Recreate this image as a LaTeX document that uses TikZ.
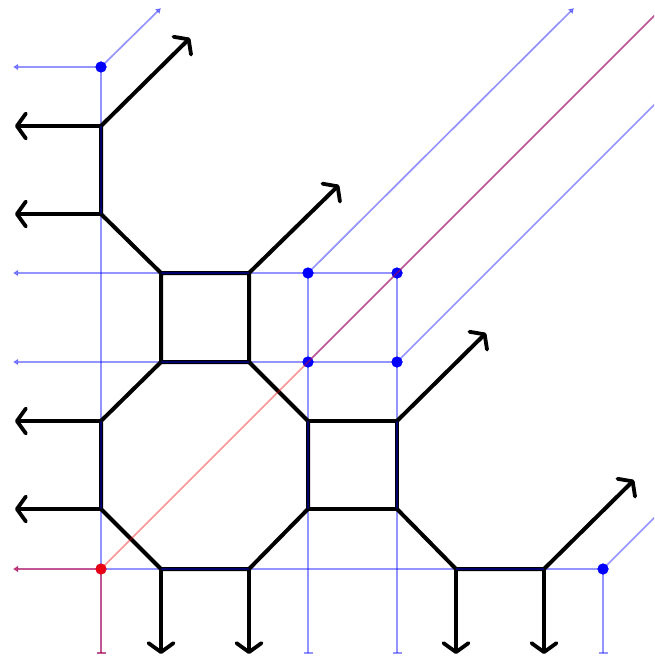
\documentclass[tikz,border=0pt]{standalone}
\usetikzlibrary{arrows.meta}
\tikzset{
  wire/.style={line width=4pt,black,line cap=round,line join=round},
  wirearrow/.style={wire,-{Straight Barb[length=9pt,width=25pt,line width=3.8pt,round]}},
  bl/.style={line width=1.7pt,blue,opacity=.42},
  blarrow/.style={bl,-{Latex[length=5pt,width=7pt]}},
  blbar/.style={bl,-{Bar[width=9pt,line width=1.7pt]}},
  rd/.style={line width=1.7pt,red,opacity=.42},
  rdarrow/.style={rd,-{Latex[length=5pt,width=7pt]}},
  rdbar/.style={rd,-{Bar[width=9pt,line width=1.7pt]}},
  bdot/.style={circle,fill=blue,inner sep=0pt,minimum size=11pt},
  rdot/.style={circle,fill=red!90!blue,inner sep=0pt,minimum size=11pt},
}
\begin{document}
\begin{tikzpicture}[x=1pt,y=-1pt]
\useasboundingbox (0,0) rectangle (654,661);
\clip (0,0) rectangle (654,661);
% vertices of the black graph
\foreach \n/\x/\y in {
  a/101/126,b/101/214,c/161/273,d/249/273,e/161/362,f/249/362,
  g/101/421,h/101/509,i/161/569,j/249/569,k/308/421,l/308/509,
  m/397/421,n/397/509,o/456/569,p/544/569}
  {\coordinate (\n) at (\x,\y);}
% free ends of black arrows
\foreach \n/\x/\y in {
  ea/190/38,la/15/126,lb/15/214,ed/339/185,lg/15/421,lh/15/509,
  em/486/333,ep/634/480,di/161/654,dj/249/654,do/456/654,dp/544/654}
  {\coordinate (\n) at (\x,\y);}
% dot nodes
\node[bdot] (B1) at (101,67) {};
\node[bdot] (B2) at (308,273) {};
\node[bdot] (B3) at (397,273) {};
\node[bdot] (B4) at (308,362) {};
\node[bdot] (B5) at (397,362) {};
\node[bdot] (B6) at (603,569) {};
\node[rdot] (R1) at (101,569) {};
% free ends of thin lines
\foreach \n/\x/\y in {
  t1l/13/67,t1d/161/8,t2l/13/273,t2d/574/8,t3d/658/12,t4l/13/362,
  t5d/658/101,t6d/658/514,t7l/13/569,bx1/101/654,bx2/308/654,bx3/397/654,bx6/603/654}
  {\coordinate (\n) at (\x,\y);}
% blue lines
\draw[blarrow] (B1.center) -- (t1l);
\draw[blarrow] (B1.center) -- (t1d);
\draw[blbar] (B1.center) -- (bx1);
\draw[blarrow] (B3.center) -- (t2l);
\draw[blarrow] (B2.center) -- (t2d);
\draw[bl] (B4.center) -- (t3d);
\draw[blarrow] (B5.center) -- (t4l);
\draw[bl] (B5.center) -- (t5d);
\draw[blbar] (B2.center) -- (bx2);
\draw[blbar] (B3.center) -- (bx3);
\draw[blarrow] (B6.center) -- (t7l);
\draw[blbar] (B6.center) -- (bx6);
\draw[bl] (B6.center) -- (t6d);
% black graph
\draw[wire] (a) -- (b) -- (c) -- (d) -- (f) -- (e) -- (c);
\draw[wire] (e) -- (g) -- (h) -- (i) -- (j) -- (l) -- (k) -- (f);
\draw[wire] (k) -- (m) -- (n) -- (l);
\draw[wire] (n) -- (o) -- (p);
\foreach \s/\t in {a/ea,a/la,b/lb,d/ed,g/lg,h/lh,m/em,p/ep,i/di,j/dj,o/do,p/dp}
  {\draw[wirearrow] (\s) -- (\t);}
% blue overlay on the black edges
\draw[line width=1.6pt,blue!70!black,opacity=.6] (a) -- (b);
\draw[line width=1.6pt,blue!70!black,opacity=.6] (c) -- (d) (e) -- (f) (g) -- (h) (i) -- (j) (k) -- (l) (m) -- (n) (o) -- (p);
% dots drawn over the lines
\node[bdot] at (B1) {};
\node[bdot] at (B2) {};
\node[bdot] at (B3) {};
\node[bdot] at (B4) {};
\node[bdot] at (B5) {};
\node[bdot] at (B6) {};
\node[rdot] at (R1) {};
% red lines on top
\draw[rdarrow] (R1.center) -- (t7l);
\draw[rdbar] (R1.center) -- (bx1);
\draw[rd] (R1.center) -- (t3d);
\end{tikzpicture}
\end{document}
